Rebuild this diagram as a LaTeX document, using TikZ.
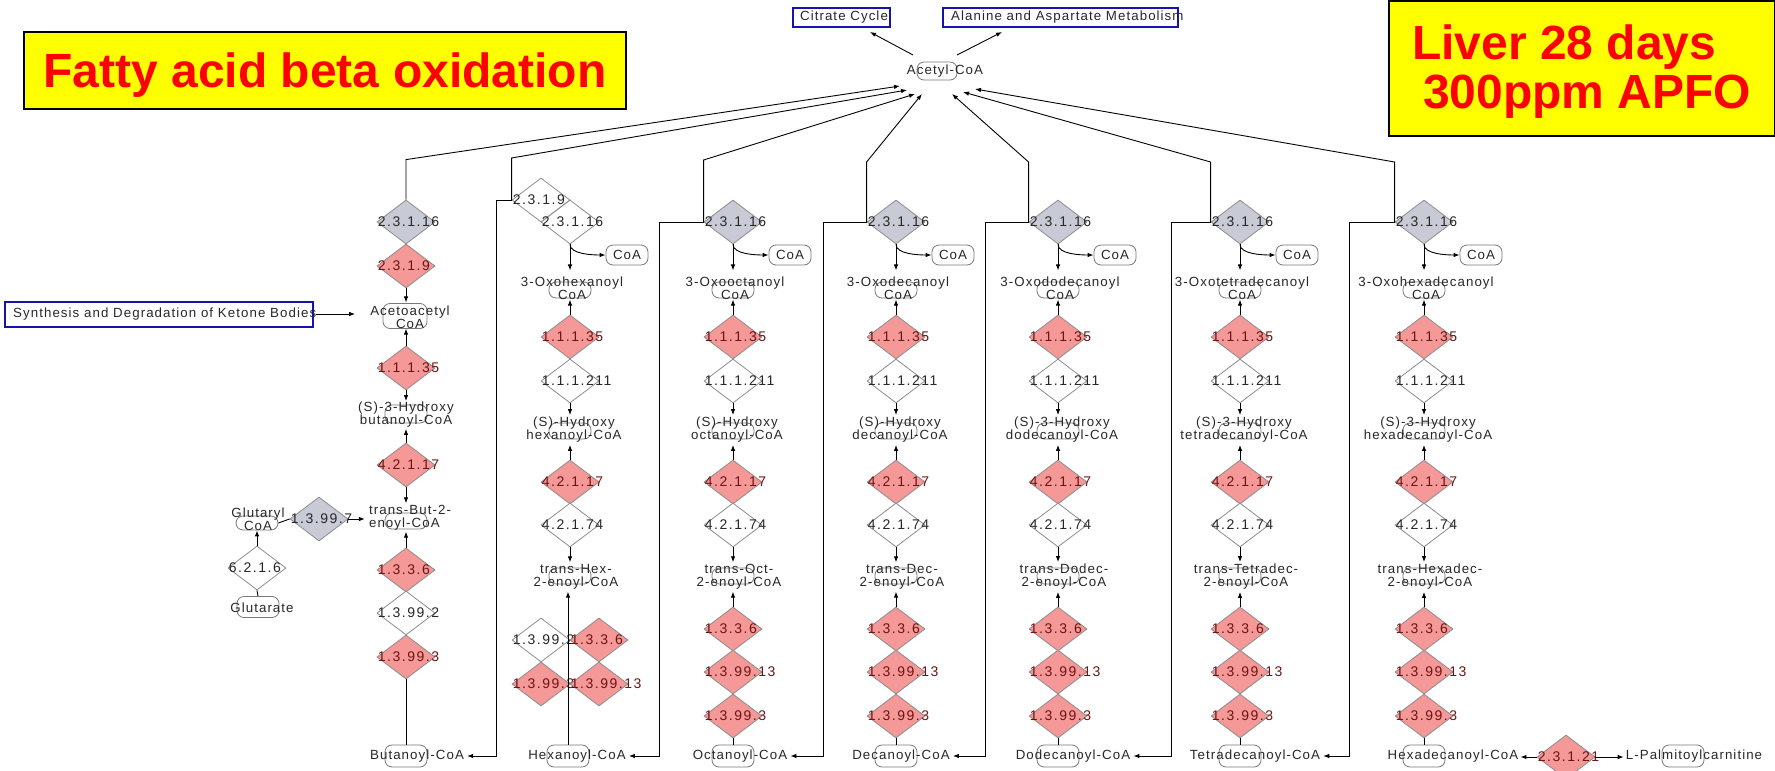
\documentclass[tikz,border=0pt]{standalone}
\usepackage{fontspec}
\newfontfamily\keggfont[LetterSpace=8]{Liberation Sans}
\newfontfamily\enzfont[LetterSpace=11]{Liberation Sans}
\newfontfamily\titlefont{Liberation Sans}
\usetikzlibrary{shapes.geometric,arrows.meta}
\definecolor{enzred}{RGB}{244,152,152}
\definecolor{enzgray}{RGB}{200,202,214}
\definecolor{enzedge}{RGB}{140,140,140}
\definecolor{cpdedge}{RGB}{120,120,120}
\definecolor{keggblue}{RGB}{20,20,170}
\definecolor{redtext}{RGB}{110,20,20}
\definecolor{titleyellow}{RGB}{255,255,0}
\definecolor{titlered}{RGB}{255,0,0}
\definecolor{txt}{RGB}{40,40,40}
\tikzset{
  enz/.style={diamond, draw=enzedge, line width=0.8pt, minimum width=58pt, minimum height=44pt, inner sep=0pt},
  enzr/.style={enz, fill=enzred},
  enzg/.style={enz, fill=enzgray},
  enzw/.style={enz, fill=white},
  elab/.style={font=\enzfont\fontsize{14}{14}\selectfont, inner sep=0pt, anchor=west, xshift=1pt},
  enzrlab/.style={text=redtext},
  enzglab/.style={text=txt},
  enzwlab/.style={text=txt},
  cpdbox/.style={draw=cpdedge, line width=0.8pt, rounded corners=7pt, fill=white, minimum width=42pt, minimum height=16pt, inner sep=0pt},
  ctext/.style={font=\keggfont\fontsize{13.3}{13}\selectfont, align=center, inner sep=0pt, text=txt},
  conn/.style={line width=0.9pt, draw=black},
  arrowed/.style={-{Latex[length=6pt,width=4.5pt]}},
  kbox/.style={draw=keggblue, line width=2.5pt, fill=white, inner sep=0pt},
  titlebox/.style={draw=black, line width=2pt, fill=titleyellow, inner sep=0pt},
  titletext/.style={font=\titlefont\bfseries\fontsize{48}{50}\selectfont, text=titlered, inner sep=0pt, anchor=base west},
}
\newcommand\enzy[4]{\node[#2] (#1) at (#3) {};\node[elab,#2lab] at (#1.west) {#4};}
\newcommand\midcol[5]{%
  \node[cpdbox] (#1-oxob) at (#2,290) {};
  \node[ctext] (#1-oxo) at (#2+2,288) {#3\\CoA};
  \node[cpdbox,minimum height=20pt] (#1-coa) at (#2+57,255) {};
  \node[ctext] at (#1-coa.center) {CoA};
  \enzy{#1-a}{enzr}{#2,337}{1.1.1.35}
  \enzy{#1-b}{enzw}{#2,381}{1.1.1.211}
  \node[cpdbox] (#1-hyb) at (#2,431) {};
  \node[ctext] (#1-hy) at (#2+4,430) {#4};
  \enzy{#1-c}{enzr}{#2,482}{4.2.1.17}
  \enzy{#1-d}{enzw}{#2,525}{4.2.1.74}
  \node[cpdbox] (#1-trb) at (#2,576) {};
  \node[ctext] (#1-tr) at (#2+6,577) {#5};
  \draw[conn,arrowed,shorten >=6pt] (#1-g.south) -- (#1-g.south |- #1-oxo.north);
  \draw[conn,arrowed] (#1-g.south) .. controls +(0,10) and +(-12,0) .. (#1-coa.west);
  \draw[conn,arrowed] (#1-a.north) -- (#1-a.north |- #1-oxo.south);
  \draw[conn,arrowed,shorten >=2pt] (#1-b.south) -- (#1-b.south |- #1-hy.north);
  \draw[conn,arrowed,shorten >=2pt] (#1-c.north) -- (#1-c.north |- #1-hy.south);
  \draw[conn,arrowed,shorten >=2pt] (#1-d.south) -- (#1-d.south |- #1-tr.north);
}
\newcommand\stdcol[7]{%
  \enzy{#1-g}{enzg}{#2,222}{2.3.1.16}
  \midcol{#1}{#2}{#3}{#4}{#5}
  \enzy{#1-e}{enzr}{#2,629}{1.3.3.6}
  \enzy{#1-f}{enzr}{#2,672}{1.3.99.13}
  \enzy{#1-h}{enzr}{#2,716}{1.3.99.3}
  \node[cpdbox,minimum height=22pt] (#1-bc) at (#2,756) {};
  \node[ctext] (#1-bt) at (#7,756) {#6};
  \draw[conn,arrowed,shorten >=2pt] (#1-e.north) -- (#1-e.north |- #1-tr.south);
  \draw[conn] (#1-h.south) -- (#1-bc.north);
}
\begin{document}
\begin{tikzpicture}[x=1pt,y=-1pt]
\useasboundingbox (0,0) rectangle (1775,771);
\clip (0,0) rectangle (1775,771);
\fill[white] (0,0) rectangle (1775,771);
% titles
\node[titlebox, minimum width=602pt, minimum height=77pt] (ttl1) at (325,70) {};
\node[titletext, anchor=base] at (325,87) {Fatty acid beta oxidation};
\node[titlebox, minimum width=386pt, minimum height=135pt] (ttl2) at (1582,68) {};
\node[titletext] at (1412,59) {Liver 28 days};
\node[titletext] at (1423,108) {300ppm APFO};
% pathway boxes
\node[kbox, minimum width=97pt, minimum height=19pt] (cit) at (841.5,17.5) {};
\node[ctext] at (844,17) {Citrate Cycle};
\node[kbox, minimum width=235pt, minimum height=19pt] (ala) at (1060.5,17.5) {};
\node[ctext, anchor=west] at (951,17) {Alanine and Aspartate Metabolism};
\node[kbox, minimum width=308pt, minimum height=25pt] (ket) at (159,314.5) {};
\node[ctext, anchor=west] (kett) at (13,314) {Synthesis and Degradation of Ketone Bodies};
% acetyl-CoA
\node[cpdbox, minimum width=40pt, minimum height=18pt] (acb) at (937,71) {};
\node[ctext] (acoa) at (945,71) {Acetyl-CoA};
\coordinate (oc) at (870,32); \coordinate (oa) at (1002,32);
\coordinate (sc) at (913,55); \coordinate (sa) at (957,55);
\draw[conn,arrowed] (sc) -- (oc);
\draw[conn,arrowed] (sa) -- (oa);
\coordinate (t1) at (900,86); \coordinate (t2) at (907,90);
\coordinate (t3) at (915,94); \coordinate (t4) at (922,94);
\coordinate (t5) at (952,94); \coordinate (t6) at (963,92);
\coordinate (t7) at (975,89);
% butanoyl column
\enzy{but-g}{enzg}{406,222}{2.3.1.16}
\enzy{but-r}{enzr}{406,266}{2.3.1.9}
\node[cpdbox,minimum width=44pt,minimum height=25pt] (but-acb) at (405,316) {};
\node[ctext] (but-ac) at (410,317) {Acetoacetyl\\CoA};
\enzy{but-a}{enzr}{406,368}{1.1.1.35}
\node[cpdbox,minimum height=18pt] (but-hyb) at (406,414) {};
\node[ctext] (but-hy) at (406,415) {(S)-3-Hydroxy\\butanoyl-CoA};
\enzy{but-c}{enzr}{406,465}{4.2.1.17}
\node[cpdbox] (but-trb) at (406,521) {};
\node[ctext,align=left] (but-tr) at (410,518) {trans-But-2-\\enoyl-CoA};
\enzy{but-e}{enzr}{406,570}{1.3.3.6}
\enzy{but-w}{enzw}{406,613}{1.3.99.2}
\enzy{but-h}{enzr}{406,657}{1.3.99.3}
\node[cpdbox,minimum height=22pt] (but-bc) at (406,756) {};
\node[ctext] (but-bt) at (417,756) {Butanoyl-CoA};
\draw[conn,arrowed,shorten >=3pt] (but-r.south) -- (but-r.south |- but-ac.north);
\draw[conn,arrowed] (but-a.north) -- (but-a.north |- but-ac.south);
\draw[conn,arrowed,shorten >=1pt] (but-a.south) -- (but-a.south |- but-hy.north);
\draw[conn,arrowed,shorten >=1pt] (but-c.north) -- (but-c.north |- but-hy.south);
\draw[conn,arrowed,shorten >=2pt] (but-c.south) -- (but-c.south |- but-tr.north);
\draw[conn,arrowed,shorten >=1pt] (but-e.north) -- (but-e.north |- but-tr.south);
\draw[conn] (but-h.south) -- (but-bc.north);
% glutaryl branch
\node[cpdbox,minimum height=14pt] (glub) at (257,523) {};
\node[ctext] (glut) at (258,519) {Glutaryl\\CoA};
\enzy{e13997}{enzg}{319,519}{1.3.99.7}
\enzy{e6216}{enzw}{257,568}{6.2.1.6}
\node[cpdbox,minimum height=21pt] (glrb) at (258,607) {};
\node[ctext] (glrt) at (262,608) {Glutarate};
\draw[conn] (glub.east) -- (e13997.west);
\draw[conn,arrowed,shorten >=4pt] (e13997.east) -- (e13997.east -| but-tr.west);
\draw[conn,arrowed] (e6216.north) -- (glub.south);
\draw[conn] (glrb.north) -- (e6216.south);
\draw[conn,arrowed,shorten >=15pt] (kett.east) -- (kett.east -| but-ac.west);
% hexanoyl column
\enzy{hex-g9}{enzw}{541,200}{2.3.1.9}
\enzy{hex-g}{enzw}{570,222}{2.3.1.16}
\midcol{hex}{570}{3-Oxohexanoyl}{(S)-Hydroxy\\hexanoyl-CoA}{trans-Hex-\\2-enoyl-CoA}
\enzy{hex-w}{enzw}{541,640}{1.3.99.2}
\enzy{hex-e}{enzr}{599,640}{1.3.3.6}
\enzy{hex-h}{enzr}{541,684}{1.3.99.3}
\enzy{hex-f}{enzr}{599,684}{1.3.99.13}
\node[cpdbox,minimum height=22pt] (hex-bc) at (568,756) {};
\node[ctext] (hex-bt) at (577,756) {Hexanoyl-CoA};
\draw[conn,arrowed,shorten >=2pt] (hex-bc.north) -- (hex-bc.north |- hex-tr.south);
% standard columns
\stdcol{oct}{733}{3-Oxooctanoyl}{(S)-Hydroxy\\octanoyl-CoA}{trans-Oct-\\2-enoyl-CoA}{Octanoyl-CoA}{740}
\stdcol{dec}{896}{3-Oxodecanoyl}{(S)-Hydroxy\\decanoyl-CoA}{trans-Dec-\\2-enoyl-CoA}{Decanoyl-CoA}{901}
\stdcol{ddc}{1058}{3-Oxododecanoyl}{(S)-3-Hydroxy\\dodecanoyl-CoA}{trans-Dodec-\\2-enoyl-CoA}{Dodecanoyl-CoA}{1073}
\stdcol{tet}{1240}{3-Oxotetradecanoyl}{(S)-3-Hydroxy\\tetradecanoyl-CoA}{trans-Tetradec-\\2-enoyl-CoA}{Tetradecanoyl-CoA}{1255}
\stdcol{hxd}{1424}{3-Oxohexadecanoyl}{(S)-3-Hydroxy\\hexadecanoyl-CoA}{trans-Hexadec-\\2-enoyl-CoA}{Hexadecanoyl-CoA}{1453}
% palmitoylcarnitine
\enzy{pal}{enzr}{1566,757}{2.3.1.21}
\node[cpdbox,minimum height=22pt] (palb) at (1683,756) {};
\node[ctext] (palt) at (1694,756) {L-Palmitoylcarnitine};
\draw[conn,arrowed,shorten >=2pt] (pal.west) -- (pal.west -| hxd-bt.east);
\draw[conn,arrowed,shorten >=2pt] (pal.east) -- (pal.east -| palt.west);
% chain-shortening connectors
\draw[conn,arrowed,shorten >=3pt] (hex-g9.west) -- ++(-15,0) |- (but-bt.east);
\draw[conn,arrowed,shorten >=3pt] (oct-g.west) -- ++(-44,0) |- (hex-bt.east);
\draw[conn,arrowed,shorten >=3pt] (dec-g.west) -- ++(-43,0) |- (oct-bt.east);
\draw[conn,arrowed,shorten >=3pt] (ddc-g.west) -- ++(-43,0) |- (dec-bt.east);
\draw[conn,arrowed,shorten >=3pt] (tet-g.west) -- ++(-39,0) |- (ddc-bt.east);
\draw[conn,arrowed,shorten >=3pt] (hxd-g.west) -- ++(-45,0) |- (tet-bt.east);
% acetyl-CoA connectors
\draw[conn,arrowed] (but-g.north) -- ++(0,-40) -- (t1);
\draw[conn,arrowed] (hex-g9.west) -- ++(0,-42) -- (t2);
\draw[conn,arrowed] (oct-g.west) -- ++(0,-62) -- (t3);
\draw[conn,arrowed] (dec-g.west) -- ++(0,-60) -- (t4);
\draw[conn,arrowed] (ddc-g.west) -- ++(0,-60) -- (t5);
\draw[conn,arrowed] (tet-g.west) -- ++(0,-60) -- (t6);
\draw[conn,arrowed] (hxd-g.west) -- ++(0,-60) -- (t7);
\end{tikzpicture}
\end{document}
